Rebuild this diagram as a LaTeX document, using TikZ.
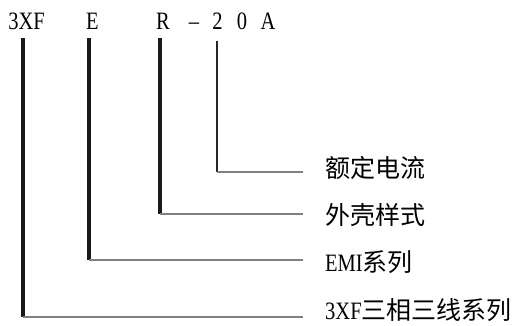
\documentclass[tikz,border=0pt]{standalone}
\usepackage{fontspec}
\setmainfont[FakeStretch=0.82]{Liberation Serif}
\newfontfamily\cjk{Noto Sans CJK SC}
\tikzset{
  code/.style={font=\fontsize{25}{25}\selectfont, inner sep=0pt, anchor=base},
  part/.style={font=\fontsize{25}{25}\selectfont, inner sep=0pt, anchor=west},
  bar/.style={line width=4pt, black!90},
  thinbar/.style={line width=2.5pt, black!85},
  leg/.style={line width=1.8pt, black!50, shorten >=22pt},
}

\begin{document}
\begin{tikzpicture}[x=1pt,y=-1pt]
  \useasboundingbox (0,0) rectangle (532,325);
  % model code
  \node[code] (c3xf) at (26.5,29) {3XF};
  \node[code] (cE) at (92.5,29) {E};
  \node[code] (cR) at (163,29) {R};
  \node[code] (cdash) at (194,29) {–};
  \node[code] (c2) at (217.5,29) {2};
  \node[code] (c0) at (242,29) {0};
  \node[code] (cA) at (268,29) {A};
  % meanings
  \node[part] (pcur) at (325,168) {\cjk 额定电流};
  \node[part] (pcase) at (325,215) {\cjk 外壳样式};
  \node[part] (pemi) at (325,262) {EMI\cjk 系列};
  \node[part] (pser) at (325,310) {3XF\cjk 三相三线系列};
  % corners
  \coordinate (k1) at (23,317);
  \coordinate (k2) at (89,260);
  \coordinate (k3) at (160,214);
  \coordinate (k4) at (217,172);
  \draw[bar, shorten <=9pt] (k1 |- c3xf.base) -- (k1);
  \draw[leg] (k1) -- (k1 -| pser.west);
  \draw[bar, shorten <=9pt] (k2 |- cE.base) -- (k2);
  \draw[leg] (k2) -- (k2 -| pemi.west);
  \draw[bar, shorten <=9pt] (k3 |- cR.base) -- (k3);
  \draw[leg] (k3) -- (k3 -| pcase.west);
  \draw[thinbar, shorten <=12pt] (k4 |- c2.base) -- (k4);
  \draw[leg] (k4) -- (k4 -| pcur.west);
\end{tikzpicture}
\end{document}
